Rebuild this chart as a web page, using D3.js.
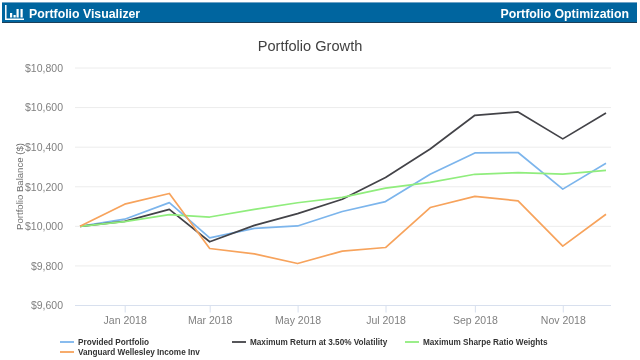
<!DOCTYPE html>
<html>
<head>
<meta charset="utf-8">
<script src="https://cdn.jsdelivr.net/npm/d3@7"></script>
<style>
  html, body { margin: 0; padding: 0; background: #fff; }
  svg { display: block; font-family: "Liberation Sans", Arial, sans-serif; filter: blur(0.4px); }
</style>
</head>
<body>
<svg id="chart" width="640" height="360"></svg>
<script>
// Portfolio growth, 13 month-end balances for 4 portfolios
const MONTHS = ['2017-12', '2018-01', '2018-02', '2018-03', '2018-04', '2018-05', '2018-06',
    '2018-07', '2018-08', '2018-09', '2018-10', '2018-11', '2018-12'];

const PROVIDED   = [10000, 10036, 10120, 9942, 9990, 10002, 10075, 10125, 10263, 10371, 10373, 10188, 10319];
const MAX_RETURN = [10000, 10025, 10086, 9922, 10005, 10064, 10137, 10247, 10391, 10561, 10578, 10442, 10573];
const MAX_SHARPE = [10000, 10024, 10059, 10047, 10086, 10119, 10146, 10193, 10222, 10263, 10271, 10264, 10283];
const WELLESLEY  = [10000, 10112, 10166, 9888, 9861, 9812, 9875, 9893, 10095, 10151, 10129, 9900, 10061];

const Y_TICKS = [9600, 9800, 10000, 10200, 10400, 10600, 10800];
const X_TICKS = ['2018-01', '2018-03', '2018-05', '2018-07', '2018-09', '2018-11'];

const parseMonth = d3.timeParse('%Y-%m');
const svg = d3.select('#chart');

// ── Header bar ───────────────────────────────────────────────────────────
const header = svg.append('g');
header.append('rect').attr('x', 2).attr('y', 2).attr('width', 635).attr('height', 21).attr('fill', '#00659f');
header.append('rect').attr('x', 2).attr('y', 2).attr('width', 635).attr('height', 1).attr('fill', '#6fa3c6');
header.append('rect').attr('x', 2).attr('y', 22).attr('width', 635).attr('height', 1).attr('fill', '#1c3f58');

// Logo: axis corner + small bars
header.append('path').attr('d', 'M5.8 5V19.3H24').attr('fill', 'none').attr('stroke', '#fff').attr('stroke-width', 1.5);
[[10, 13], [13.5, 15], [16.5, 9], [20.5, 9]].forEach(([bx, by]) => {
    header.append('rect').attr('x', bx).attr('y', by).attr('width', 2.2).attr('height', 17.5 - by).attr('fill', '#fff');
});

header.append('text').attr('x', 29).attr('y', 17.5)
    .attr('fill', '#fff').attr('font-size', '12.3px').attr('font-weight', 700)
    .text('Portfolio Visualizer');
header.append('text').attr('x', 629).attr('y', 17.5).attr('text-anchor', 'end')
    .attr('fill', '#fff').attr('font-size', '12.3px').attr('font-weight', 700)
    .text('Portfolio Optimization');

// ── Title ────────────────────────────────────────────────────────────────
svg.append('text').attr('x', 310).attr('y', 51).attr('text-anchor', 'middle')
    .attr('fill', '#404040').attr('font-size', '14.6px')
    .text('Portfolio Growth');

// ── Scales ───────────────────────────────────────────────────────────────
const x = d3.scaleTime()
    .domain([parseMonth(MONTHS[0]), parseMonth(MONTHS[MONTHS.length - 1])])
    .range([80, 606]);
const y = d3.scaleLinear().domain([9600, 10800]).range([305.5, 68]);

// ── Axes ─────────────────────────────────────────────────────────────────
const yAxis = svg.append('g').attr('transform', 'translate(75,0)')
    .call(d3.axisLeft(y).tickValues(Y_TICKS).tickSize(0).tickPadding(12).tickFormat(d => '$' + d3.format(',')(d)));
yAxis.select('.domain').remove();
yAxis.selectAll('text').attr('fill', '#808080').attr('font-size', '10.5px').attr('font-family', 'inherit');

svg.append('g').selectAll('line')
    .data(Y_TICKS.filter(d => d !== 9600))
    .join('line')
    .attr('x1', 75).attr('x2', 611)
    .attr('y1', d => y(d)).attr('y2', d => y(d))
    .attr('stroke', '#ececec').attr('stroke-width', 1);

const xAxis = svg.append('g').attr('transform', 'translate(0,305.5)')
    .call(d3.axisBottom(x).tickValues(X_TICKS.map(parseMonth)).tickSize(7).tickPadding(4).tickFormat(d3.timeFormat('%b %Y')));
xAxis.select('.domain').attr('d', 'M75,0H611').attr('stroke', '#d8e0ee');
xAxis.selectAll('line').attr('stroke', '#d8e0ee');
xAxis.selectAll('text').attr('fill', '#808080').attr('font-size', '10.5px').attr('font-family', 'inherit');

svg.append('text')
    .attr('transform', 'translate(23,186.5) rotate(-90)')
    .attr('text-anchor', 'middle')
    .attr('fill', '#707070').attr('font-size', '9.6px')
    .text('Portfolio Balance ($)');

// ── Lines ────────────────────────────────────────────────────────────────
const line = d3.line()
    .x((d, i) => x(parseMonth(MONTHS[i])))
    .y(d => y(d));

const SERIES = [
    { name: 'Provided Portfolio', values: PROVIDED, color: '#7cb5ec', lx: 60, ly: 342 },
    { name: 'Maximum Return at 3.50% Volatility', values: MAX_RETURN, color: '#434348', lx: 232, ly: 342 },
    { name: 'Maximum Sharpe Ratio Weights', values: MAX_SHARPE, color: '#90ed7d', lx: 405, ly: 342 },
    { name: 'Vanguard Wellesley Income Inv', values: WELLESLEY, color: '#f7a35c', lx: 60, ly: 352 },
];

svg.append('g').selectAll('path')
    .data(SERIES)
    .join('path')
    .attr('d', d => line(d.values))
    .attr('fill', 'none')
    .attr('stroke', d => d.color)
    .attr('stroke-width', 1.7)
    .attr('stroke-linejoin', 'round');

// ── Legend ───────────────────────────────────────────────────────────────
const legend = svg.append('g').selectAll('g')
    .data(SERIES)
    .join('g')
    .attr('transform', d => `translate(${d.lx},${d.ly})`);

legend.append('line')
    .attr('x1', 0).attr('x2', 14)
    .attr('stroke', d => d.color).attr('stroke-width', 1.8);

legend.append('text')
    .attr('x', 18).attr('y', 3)
    .attr('fill', '#333').attr('font-size', '8.2px').attr('font-weight', 700)
    .text(d => d.name);
</script>
</body>
</html>
